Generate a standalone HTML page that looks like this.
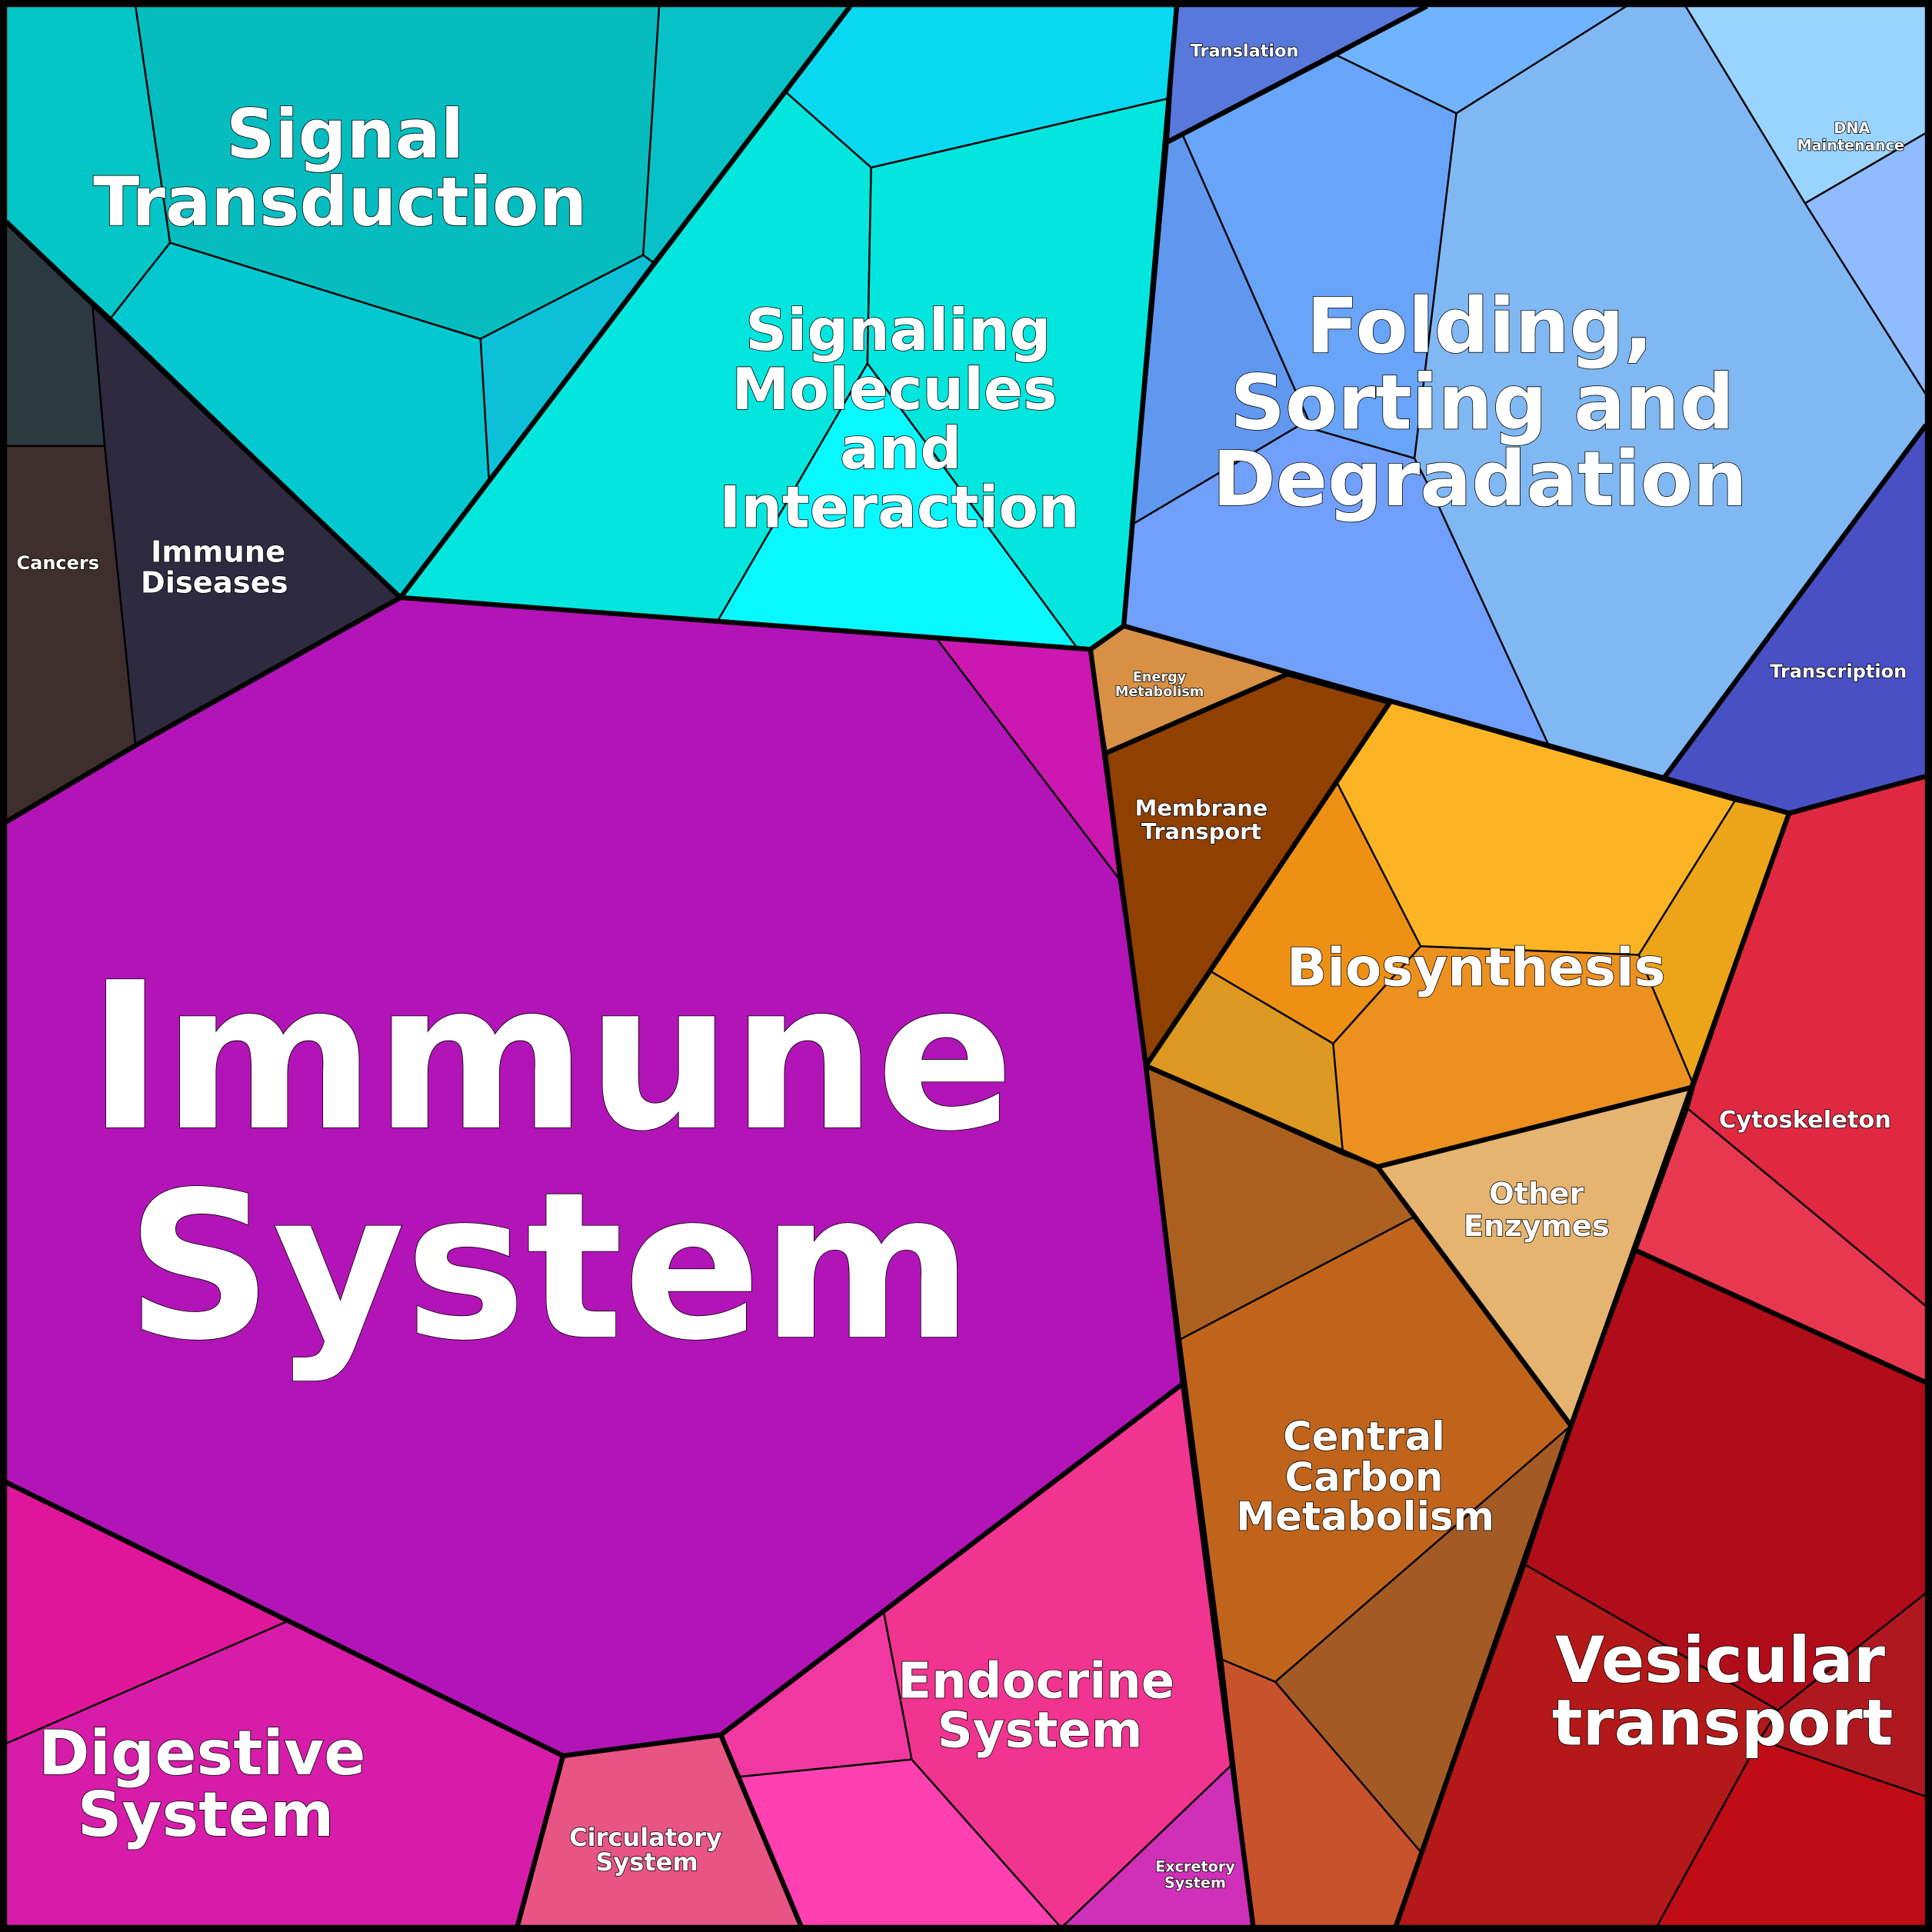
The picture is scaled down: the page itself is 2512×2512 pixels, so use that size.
<!DOCTYPE html>
<html><head><meta charset="utf-8"><style>html,body{margin:0;padding:0;background:#000}svg{display:block}
text{font-family:"DejaVu Sans","Liberation Sans",sans-serif;font-weight:bold;fill:#fff;stroke:#000;stroke-width:1;paint-order:stroke;text-anchor:middle}</style></head>
<body>
<svg width="2512" height="2512" viewBox="0 0 1568 1568" xmlns="http://www.w3.org/2000/svg">
<rect x="0" y="0" width="1568" height="1568" fill="#000"/>
<g stroke="#000" stroke-width="1.5" stroke-linejoin="round">
<polygon fill="#04c6c6" points="5,5 110,5 138,197 90,258 5,180"/>
<polygon fill="#05bcbe" points="110,5 535,5 522,207 390,275 138,197"/>
<polygon fill="#06c2c8" points="535,5 690,5 530,213 522,207"/>
<polygon fill="#03c8d0" points="90,258 138,197 390,275 397,392 325,485"/>
<polygon fill="#0cc0d8" points="390,275 522,207 530,213 397,392"/>
<polygon fill="#08d8f0" points="690,5 955,5 948,80 707,136 638,75"/>
<polygon fill="#03e6de" points="638,75 707,136 704,295 583,503 325,485"/>
<polygon fill="#03e6de" points="707,136 948,80 912,508 885,527 875,527 704,295"/>
<polygon fill="#08f8ff" points="704,295 875,527 760,518 583,503"/>
<polygon fill="#2c3a40" points="5,180 75,247 85,362 5,362"/>
<polygon fill="#3e2e2e" points="5,362 85,362 110,605 5,667"/>
<polygon fill="#2e2a40" points="75,247 325,485 110,605 85,362"/>
<polygon fill="#b214b8" points="5,667 110,605 325,485 760,518 908,713 930,865 960,1123 585,1408 457,1425 5,1203"/>
<polygon fill="#cc18b0" points="760,518 885,527 908,713"/>
<polygon fill="#d61ca8" points="5,1203 457,1425 420,1563 5,1563"/>
<polygon fill="#e0169a" points="5,1203 233,1316 5,1415"/>
<polygon fill="#e85585" points="457,1425 585,1408 650,1563 420,1563"/>
<polygon fill="#f038a0" points="585,1408 717,1307 740,1428 600,1442"/>
<polygon fill="#ff40b0" points="600,1442 740,1428 860,1563 650,1563"/>
<polygon fill="#f03490" points="717,1307 960,1123 1000,1432 863,1563 860,1563 740,1428"/>
<polygon fill="#d030b8" points="1000,1432 1017,1563 863,1563"/>
<polygon fill="#d89044" points="885,527 912,508 1045,547 898,611"/>
<polygon fill="#904000" points="898,611 1045,547 1128,570 1085,635 982,788 930,865"/>
<polygon fill="#fcb424" points="1085,635 1128,570 1408,650 1330,775 1153,768"/>
<polygon fill="#eca418" points="1408,650 1452,660 1375,882 1330,775"/>
<polygon fill="#ee9014" points="982,788 1085,635 1153,768 1082,847"/>
<polygon fill="#dc9820" points="930,865 982,788 1082,847 1090,937"/>
<polygon fill="#ec9020" points="1082,847 1153,768 1330,775 1375,882 1118,947 1090,937"/>
<polygon fill="#e4b470" points="1118,947 1375,882 1275,1157"/>
<polygon fill="#ac6020" points="930,865 1090,937 1118,947 1147,988 958,1087"/>
<polygon fill="#c0641c" points="958,1087 1147,988 1275,1157 1035,1365 992,1347"/>
<polygon fill="#a45a24" points="1035,1365 1275,1157 1153,1503"/>
<polygon fill="#c8522c" points="992,1347 1035,1365 1153,1503 1133,1563 1017,1563"/>
<polygon fill="#5878dc" points="955,5 1158,5 1085,45 948,115"/>
<polygon fill="#70b4ff" points="1085,45 1158,5 1320,5 1182,92"/>
<polygon fill="#68a4f8" points="960,110 1085,45 1182,92 1148,372 1065,348"/>
<polygon fill="#6098f0" points="948,115 960,110 1065,348 1055,345 920,425"/>
<polygon fill="#70a0fc" points="920,425 1055,345 1065,348 1148,372 1165,405 1257,605 912,508"/>
<polygon fill="#80b8f4" points="1182,92 1320,5 1368,5 1465,165 1563,320 1563,345 1350,632 1257,605 1165,405 1148,372"/>
<polygon fill="#98d4ff" points="1368,5 1563,5 1563,108 1465,165"/>
<polygon fill="#90bcff" points="1465,165 1563,108 1563,320"/>
<polygon fill="#4850c4" points="1563,345 1563,630 1452,660 1350,632"/>
<polygon fill="#e02840" points="1452,660 1563,630 1563,1060 1370,900 1375,882"/>
<polygon fill="#e83850" points="1370,900 1563,1060 1563,1122 1328,1015"/>
<polygon fill="#b00c1a" points="1328,1015 1563,1122 1563,1293 1443,1388 1238,1270 1275,1157"/>
<polygon fill="#b01820" points="1443,1388 1563,1293 1563,1458 1428,1412"/>
<polygon fill="#b41818" points="1238,1270 1443,1388 1428,1412 1345,1563 1133,1563"/>
<polygon fill="#c00c14" points="1428,1412 1563,1458 1563,1563 1345,1563"/>
</g>
<g fill="none" stroke="#000" stroke-width="4" stroke-linejoin="round">
<polyline points="5,180 325,485 690,5"/>
<polyline points="325,485 110,605 5,667"/>
<polyline points="955,5 912,508 885,527 325,485"/>
<polyline points="885,527 930,865 960,1123 1000,1432 1017,1563"/>
<polyline points="912,508 1452,660 1563,630"/>
<polyline points="1452,660 1275,1157 1133,1563"/>
<polyline points="1328,1015 1563,1122"/>
<polyline points="930,865 1118,947 1375,882"/>
<polyline points="1118,947 1275,1157"/>
<polyline points="898,611 1045,547 1128,570 982,788 930,865"/>
<polyline points="5,1203 457,1425 585,1408 960,1123"/>
<polyline points="457,1425 420,1563"/>
<polyline points="585,1408 650,1563"/>
<polyline points="1350,632 1563,345"/>
<polyline points="948,115 1158,5"/>
<rect x="3.5" y="3.5" width="1561" height="1561"/>
</g>
<text font-size="55" x="280" y="128">Signal</text>
<text font-size="55" x="276" y="183">Transduction</text>
<text font-size="47" x="729" y="284">Signaling</text>
<text font-size="47" x="726" y="332">Molecules</text>
<text font-size="47" x="731" y="380">and</text>
<text font-size="47" x="730" y="428">Interaction</text>
<text font-size="62" x="1201" y="286">Folding,</text>
<text font-size="62" x="1203" y="348">Sorting and</text>
<text font-size="62" x="1201" y="410">Degradation</text>
<text font-size="165" x="447" y="915" stroke-width="2">Immune</text>
<text font-size="165" x="446" y="1085" stroke-width="2">System</text>
<text font-size="24" x="177" y="456">Immune</text>
<text font-size="24" x="174" y="481">Diseases</text>
<text font-size="15" x="47" y="462">Cancers</text>
<text font-size="14" x="1010" y="46">Translation</text>
<text font-size="12" x="1503" y="108">DNA</text>
<text font-size="12" x="1502" y="122">Maintenance</text>
<text font-size="15" x="1492" y="550">Transcription</text>
<text font-size="11" x="941" y="553">Energy</text>
<text font-size="11" x="941" y="565">Metabolism</text>
<text font-size="18" x="975" y="662">Membrane</text>
<text font-size="18" x="975" y="681">Transport</text>
<text font-size="43" x="1198" y="800">Biosynthesis</text>
<text font-size="19" x="1465" y="915">Cytoskeleton</text>
<text font-size="24" x="1247" y="977">Other</text>
<text font-size="24" x="1247" y="1003">Enzymes</text>
<text font-size="32" x="1107" y="1177">Central</text>
<text font-size="32" x="1107" y="1210">Carbon</text>
<text font-size="32" x="1108" y="1242">Metabolism</text>
<text font-size="52" x="1396" y="1365">Vesicular</text>
<text font-size="52" x="1398" y="1416">transport</text>
<text font-size="40" x="841" y="1378">Endocrine</text>
<text font-size="40" x="844" y="1418">System</text>
<text font-size="50" x="164" y="1440">Digestive</text>
<text font-size="50" x="167" y="1490">System</text>
<text font-size="20" x="524" y="1498">Circulatory</text>
<text font-size="20" x="525" y="1518">System</text>
<text font-size="12" x="970" y="1519">Excretory</text>
<text font-size="12" x="970" y="1532">System</text>
</svg>
</body></html>
